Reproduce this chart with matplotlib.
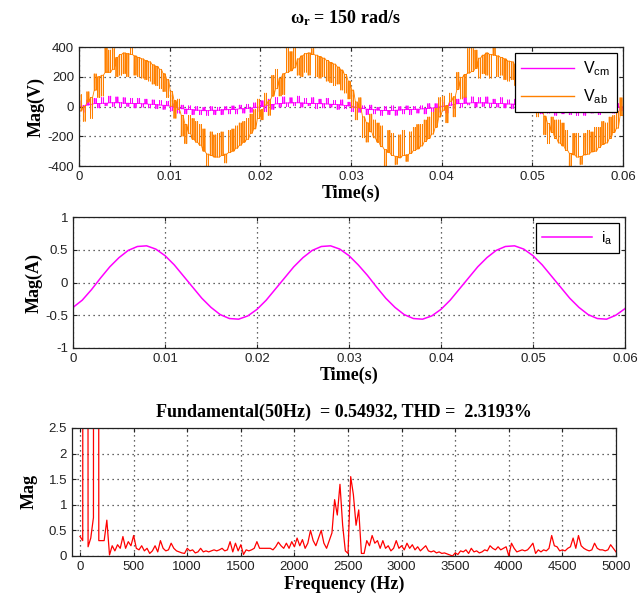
"""Inverter output at w_r = 150 rad/s: line voltages, phase current and its spectrum."""

import matplotlib

matplotlib.use("Agg")
import matplotlib.pyplot as plt
import numpy as np

plt.rcParams["axes.unicode_minus"] = False
plt.rcParams["font.family"] = "Liberation Sans"
plt.rcParams["mathtext.fontset"] = "custom"
plt.rcParams["mathtext.rm"] = "Liberation Sans"
plt.rcParams["mathtext.it"] = "Liberation Sans:italic"
plt.rcParams["mathtext.bf"] = "Liberation Serif:bold"

# switching period of the PWM traces (s)
SW_PERIOD = 0.0004

# V_ab: level held in each switching period and the level it jumps to (V)
vab_base = [
    -30, 0, 30, 60, 110, 200, 210, 230, 230, 250,
    330, 350, 360, 355, 350, 340, 330, 320, 310, 300,
    280, 270, 250, 220, 180, 100, 40, -20, -60, -120,
    -180, -220, -240, -260, -300, -320, -330, -340, -340, -330,
    -320, -310, -300, -280, -260, -240, -220, -180, -150, -80,
    -20, 10, 40, 70, 120, 190, 220, 230, 240, 260,
    320, 340, 355, 360, 350, 345, 335, 325, 310, 295,
    285, 265, 245, 215, 170, 110, 30, -10, -70, -110,
    -170, -210, -240, -270, -290, -310, -330, -335, -345, -330,
    -325, -315, -295, -285, -265, -235, -215, -185, -140, -70,
    -25, 5, 35, 65, 115, 195, 215, 225, 235, 255,
    325, 345, 360, 350, 345, 340, 330, 320, 305, 300,
    275, 265, 250, 225, 175, 105, 35, -15, -65, -115,
    -175, -215, -245, -265, -295, -315, -325, -340, -335, -325,
    -320, -305, -300, -275, -255, -245, -215, -175, -145, -60,
]
vab_spike = [
    80, -100, 100, -80, 220, 60, 70, 400, 380, 390,
    200, 210, 220, 200, 400, 210, 200, 190, 180, 170,
    150, 140, 120, 100, 60, 0, -80, 50, -200, -250,
    -60, -80, -100, -120, -150, -400, -170, -190, -180, -170,
    -380, -160, -150, -130, -110, -100, -80, -50, -20, 50,
    -90, 90, -60, 210, 250, 70, 80, 390, 370, 400,
    210, 200, 230, 210, 390, 200, 190, 200, 170, 160,
    140, 150, 110, 90, 50, -10, -90, 60, -210, -240,
    -50, -90, -110, -130, -400, -160, -180, -390, -190, -160,
    -370, -170, -140, -120, -120, -90, -70, -40, -10, 60,
    70, -110, 90, -70, 230, 50, 60, 390, 390, 380,
    190, 220, 210, 190, 400, 200, 210, 180, 170, 180,
    140, 150, 130, 90, 70, -10, -70, 40, -190, -250,
    -70, -90, -90, -110, -160, -400, -180, -180, -390, -180,
    -160, -170, -140, -140, -100, -110, -70, -60, -30, 60,
]

# V_cm: held level and jump level in each switching period (V)
vcm_base = [
    0, 5, 10, 15, 20, 20, 22, 22, 25, 25,
    25, 25, 22, 22, 20, 20, 20, 18, 18, 15,
    15, 12, 10, 8, 5, 0, -5, -10, -15, -18,
    -20, -22, -25, -25, -28, -28, -25, -25, -25, -22,
    -22, -20, -20, -18, -15, -15, -12, -10, -8, -4,
    0, 4, 10, 14, 18, 20, 22, 24, 24, 25,
    25, 24, 22, 21, 20, 20, 19, 18, 17, 15,
    14, 12, 10, 7, 4, 0, -6, -10, -14, -18,
    -21, -22, -24, -26, -27, -28, -26, -25, -24, -22,
    -21, -20, -19, -18, -16, -14, -12, -10, -7, -3,
    1, 5, 9, 15, 19, 21, 22, 23, 25, 26,
    24, 25, 23, 22, 21, 19, 20, 18, 17, 16,
    14, 13, 10, 8, 5, 1, -4, -9, -15, -17,
    -20, -23, -25, -24, -27, -28, -26, -26, -24, -23,
    -22, -21, -20, -17, -15, -14, -13, -9, -6, -2,
]
vcm_spike = [
    35, -40, 45, -25, 55, -10, 60, 5, 70, 0,
    65, -5, 60, 0, 55, -10, 55, -5, 50, -10,
    45, -15, 40, -20, 35, -30, 20, -45, 10, -50,
    5, -55, 0, -55, -5, -60, 0, -55, -5, -55,
    0, -50, 5, -50, 10, -45, 15, -40, 25, -35,
    40, -35, 50, -20, 60, -5, 65, 0, 60, 5,
    70, -5, 55, 5, 60, -15, 50, -10, 55, -5,
    40, -20, 45, -15, 30, -35, 25, -40, 5, -55,
    10, -50, -5, -60, 0, -55, 5, -60, 0, -50,
    5, -55, 0, -45, 5, -50, 20, -35, 20, -40,
    30, -45, 50, -15, 50, -5, 65, 10, 65, -5,
    60, 0, 65, -5, 50, -5, 60, -10, 45, -15,
    50, -10, 35, -25, 40, -25, 15, -50, 15, -45,
    0, -60, 5, -50, -10, -55, 5, -60, 0, -60,
    5, -45, 0, -55, 15, -40, 10, -45, 20, -30,
]

# phase current i_a sampled every 1 ms (A)
ia_step = 0.001
ia_values = [
    -0.38, -0.27, -0.11, 0.07, 0.24, 0.38, 0.49, 0.55, 0.56, 0.51,
    0.41, 0.27, 0.10, -0.07, -0.24, -0.38, -0.49, -0.55, -0.56, -0.51,
    -0.41, -0.27, -0.10, 0.07, 0.24, 0.38, 0.49, 0.55, 0.56, 0.51,
    0.41, 0.27, 0.11, -0.07, -0.24, -0.38, -0.49, -0.55, -0.56, -0.51,
    -0.41, -0.27, -0.10, 0.07, 0.24, 0.38, 0.49, 0.55, 0.56, 0.51,
    0.41, 0.27, 0.10, -0.07, -0.24, -0.38, -0.49, -0.55, -0.56, -0.50,
    -0.40,
]

# spectrum of i_a, one value every 25 Hz from 0 to 5000 Hz
freq_step = 25
spectrum_mag = [
    0.38, 0.30, 100.0, 0.18, 0.35, 0.75, 100.0, 0.30, 0.30, 0.30,
    0.70, 0.02, 0.20, 0.10, 0.22, 0.15, 0.38, 0.15, 0.28, 0.20,
    0.40, 0.15, 0.12, 0.20, 0.10, 0.15, 0.05, 0.10, 0.20, 0.08,
    0.30, 0.15, 0.10, 0.12, 0.25, 0.15, 0.10, 0.08, 0.06, 0.05,
    0.15, 0.10, 0.12, 0.06, 0.08, 0.15, 0.08, 0.10, 0.08, 0.10,
    0.12, 0.10, 0.12, 0.15, 0.10, 0.12, 0.28, 0.08, 0.25, 0.10,
    0.22, 0.03, 0.12, 0.10, 0.12, 0.15, 0.28, 0.15, 0.15, 0.15,
    0.15, 0.15, 0.12, 0.18, 0.27, 0.20, 0.15, 0.25, 0.15, 0.28,
    0.18, 0.35, 0.20, 0.32, 0.15, 0.25, 0.50, 0.30, 0.20, 0.35,
    0.50, 0.25, 0.15, 0.30, 0.45, 1.10, 0.80, 1.40, 0.60, 0.10,
    0.05, 1.55, 1.20, 0.60, 0.90, 0.05, 0.05, 0.30, 0.20, 0.40,
    0.25, 0.30, 0.15, 0.30, 0.15, 0.20, 0.10, 0.15, 0.30, 0.15,
    0.20, 0.12, 0.25, 0.15, 0.22, 0.12, 0.18, 0.10, 0.15, 0.20,
    0.10, 0.08, 0.10, 0.06, 0.08, 0.05, 0.06, 0.04, 0.02, 0.00,
    0.06, 0.03, 0.10, 0.08, 0.12, 0.05, 0.15, 0.08, 0.10, 0.06,
    0.08, 0.12, 0.10, 0.20, 0.15, 0.12, 0.18, 0.12, 0.15, 0.18,
    0.00, 0.25, 0.15, 0.08, 0.10, 0.12, 0.10, 0.12, 0.18, 0.25,
    0.05, 0.12, 0.08, 0.12, 0.10, 0.15, 0.40, 0.20, 0.18, 0.10,
    0.12, 0.10, 0.15, 0.18, 0.35, 0.15, 0.40, 0.20, 0.15, 0.12,
    0.10, 0.12, 0.25, 0.15, 0.12, 0.12, 0.10, 0.12, 0.22, 0.15,
    0.08,
]

LABEL_FONT = {"family": "Liberation Serif", "weight": "bold", "size": 13}


def pwm_trace(base, spike, period):
    """Turn per-period held/jump levels into a stepped line (x, y).

    Each switching period holds the base level and pulses twice to the
    jump level, which gives the dense band of the simulated waveform.
    """
    xs, ys = [], []
    for k, (lo, hi) in enumerate(zip(base, spike)):
        t0 = k * period
        for a, b in ((0.2, 0.23), (0.7, 0.73)):
            xs += [t0 + a * period, t0 + a * period,
                   t0 + b * period, t0 + b * period]
            ys += [lo, hi, hi, lo]
    xs.append(len(base) * period)
    ys.append(base[-1])
    return np.array(xs), np.array(ys)


def style_axes(ax):
    """Matlab-like box, dotted grid and inward ticks."""
    ax.grid(True, linestyle=(0, (1, 3)), color="#333333", linewidth=0.9)
    ax.tick_params(direction="in", top=True, right=True, length=3,
                   labelsize=9.5, colors="#222222")
    for side in ax.spines.values():
        side.set_linewidth(0.9)
        side.set_color("#222222")
    ax.xaxis.set_major_formatter(plt.FuncFormatter(lambda v, _: f"{v:g}"))
    ax.yaxis.set_major_formatter(plt.FuncFormatter(lambda v, _: f"{v:g}"))


def main():
    fig = plt.figure(figsize=(6.44, 6.05), dpi=100)

    # voltages
    ax1 = fig.add_axes([0.1227, 0.7256, 0.8447, 0.1967])
    tx, vy = pwm_trace(vcm_base, vcm_spike, SW_PERIOD)
    ax1.plot(tx, vy, color="#ff00ff", lw=0.6, label="V$_{\\mathrm{cm}}$")
    tx, vy = pwm_trace(vab_base, vab_spike, SW_PERIOD)
    ax1.plot(tx, vy, color="#ff8000", lw=0.6, label="V$_{\\mathrm{ab}}$")
    ax1.set_xlim(0, 0.06)
    ax1.set_ylim(-400, 400)
    ax1.set_xticks(np.arange(0, 0.0601, 0.01))
    ax1.set_yticks(np.arange(-400, 401, 200))
    style_axes(ax1)
    ax1.set_xlabel("Time(s)", fontdict=LABEL_FONT, labelpad=1)
    ax1.set_ylabel("Mag(V)", fontdict=LABEL_FONT, labelpad=2)
    leg = ax1.legend(loc="upper right", fontsize=11.5, handlelength=3.3,
                     fancybox=False, framealpha=1, edgecolor="black",
                     borderaxespad=0.4, labelspacing=0.55, handletextpad=0.6)
    leg.get_frame().set_linewidth(0.9)
    for line in leg.get_lines():
        line.set_linewidth(1.0)
    fig.text(0.536, 0.970, r"$\mathbf{\omega_r}$" + " = 150 rad/s",
             ha="center", va="center", **LABEL_FONT)

    # phase current
    ax2 = fig.add_axes([0.1134, 0.4248, 0.857, 0.2165])
    t_ia = np.arange(len(ia_values)) * ia_step
    ax2.plot(t_ia, ia_values, color="#ff00ff", lw=1.1, label="i$_{\\mathrm{a}}$")
    ax2.set_xlim(0, 0.06)
    ax2.set_ylim(-1, 1)
    ax2.set_xticks(np.arange(0, 0.0601, 0.01))
    ax2.set_yticks([-1, -0.5, 0, 0.5, 1])
    style_axes(ax2)
    ax2.set_xlabel("Time(s)", fontdict=LABEL_FONT, labelpad=1)
    ax2.set_ylabel("Mag(A)", fontdict=LABEL_FONT, labelpad=2)
    leg = ax2.legend(loc="upper right", fontsize=11, handlelength=3.3,
                     fancybox=False, framealpha=1, edgecolor="black",
                     borderaxespad=0.4, handletextpad=0.6)
    leg.get_frame().set_linewidth(0.9)

    # spectrum
    ax3 = fig.add_axes([0.1118, 0.081, 0.8447, 0.2116])
    freqs = np.arange(len(spectrum_mag)) * freq_step
    ax3.plot(freqs, spectrum_mag, color="#ff0000", lw=0.9)
    ax3.set_xlim(-75, 5000)
    ax3.set_ylim(0, 2.5)
    ax3.set_xticks(np.arange(0, 5001, 500))
    ax3.set_yticks(np.arange(0, 2.51, 0.5))
    style_axes(ax3)
    ax3.set_xlabel("Frequency (Hz)", fontdict=LABEL_FONT, labelpad=2)
    ax3.set_ylabel("Mag", fontdict=LABEL_FONT, labelpad=8)
    ax3.set_title("Fundamental(50Hz)  = 0.54932, THD =  2.3193%",
                  fontdict=LABEL_FONT, pad=8)

    fig.savefig("out.png", dpi=100)


if __name__ == "__main__":
    main()
